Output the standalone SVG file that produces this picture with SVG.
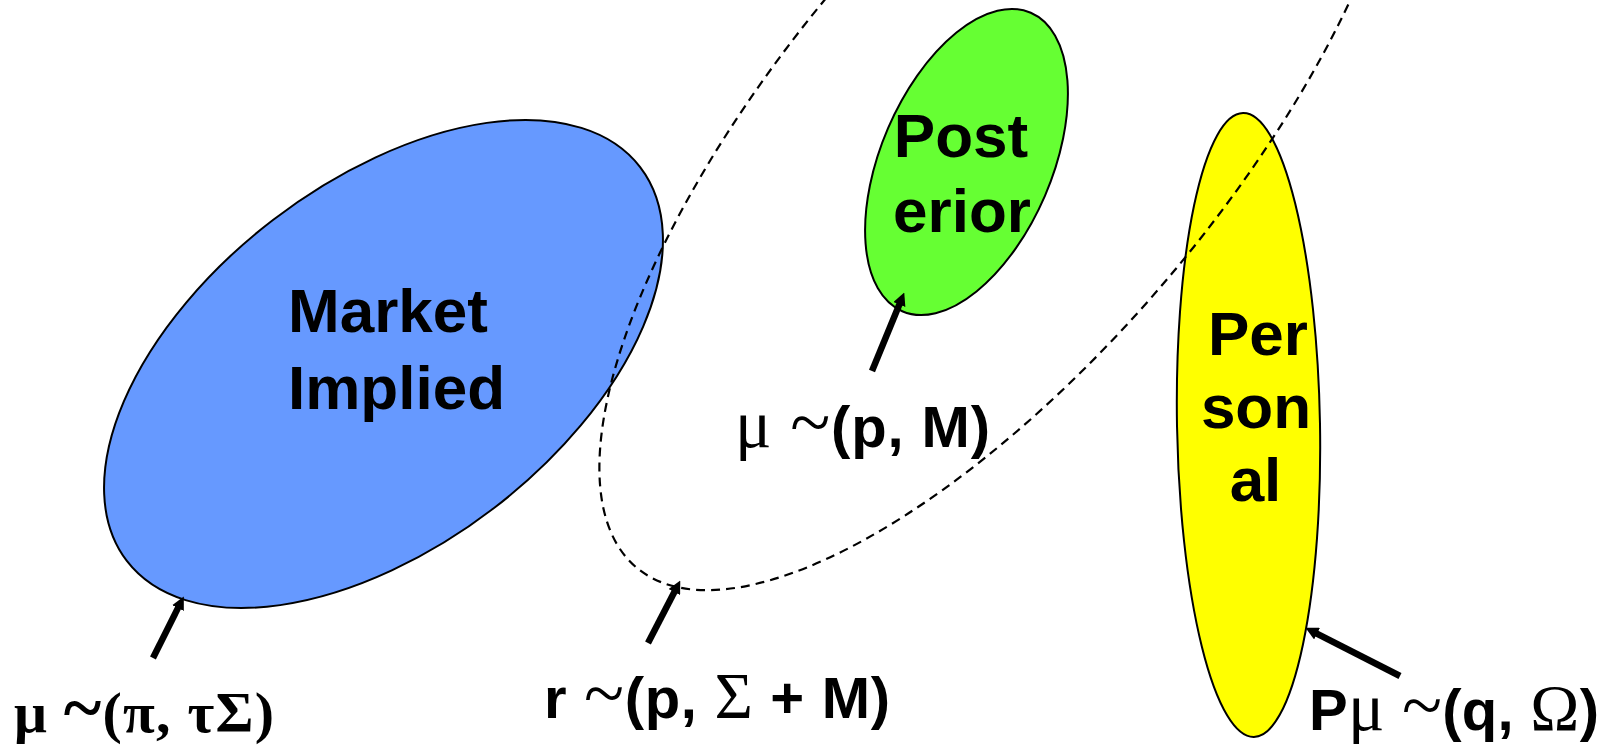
<svg xmlns="http://www.w3.org/2000/svg" width="1617" height="748" viewBox="0 0 1617 748">
<defs>
<style>
.node{stroke:#000;stroke-width:2}
.lbl{font-family:"Liberation Sans",Arial,sans-serif;font-weight:bold;fill:#000}
.sans{font-family:"Liberation Sans",Arial,sans-serif;font-weight:bold}
.ser{font-family:"Liberation Serif","Times New Roman",serif;font-weight:normal}
.serb{font-family:"Liberation Serif","Times New Roman",serif;font-weight:bold}
.conn{stroke:#000;stroke-width:6.5;fill:none;marker-end:url(#ah)}
.dash{fill:none;stroke:#000;stroke-width:2.2;stroke-dasharray:9 6}
</style>
<marker id="ah" viewBox="0 0 10 10" refX="4" refY="5" markerWidth="2" markerHeight="2" orient="auto" markerUnits="strokeWidth">
<path d="M0,0 L10,5 L0,10 z" fill="#000"/>
</marker>
</defs>
<rect width="1617" height="748" fill="#fff"/>
<g id="market">
<ellipse class="node" cx="383.5" cy="364" rx="323.5" ry="181.6" fill="#6699FF" transform="rotate(-37.5 383.5 364)"/>
<text class="lbl" font-size="62" x="288" y="332">Market</text>
<text class="lbl" font-size="62" x="288" y="408.5">Implied</text>
</g>
<g id="posterior">
<ellipse class="node" cx="966.5" cy="162" rx="85.4" ry="162.5" fill="#66FF33" transform="rotate(23.3 966.5 162)"/>
<text class="lbl" font-size="62" x="961" y="157" text-anchor="middle">Post</text>
<text class="lbl" font-size="62" x="962" y="232" text-anchor="middle">erior</text>
</g>
<g id="personal">
<ellipse class="node" cx="1248.5" cy="425" rx="71.5" ry="312" fill="#FFFF00" transform="rotate(-1 1248.5 425)"/>
<text class="lbl" font-size="62" x="1258" y="355" text-anchor="middle">Per</text>
<text class="lbl" font-size="62" x="1256" y="428" text-anchor="middle">son</text>
<text class="lbl" font-size="62" x="1255.5" y="501" text-anchor="middle">al</text>
</g>
<g id="returns">
<ellipse class="dash" cx="1003" cy="131" rx="570" ry="221" transform="rotate(-50 1003 131)"/>
</g>
<g id="labels">
<text x="14" y="732" font-size="58" textLength="260" lengthAdjust="spacing"><tspan class="serb">μ </tspan><tspan class="serb" font-size="72">~</tspan><tspan class="serb">(π, τΣ)</tspan></text>
<text x="544" y="718" font-size="58" textLength="346" lengthAdjust="spacing"><tspan class="sans">r </tspan><tspan class="ser" font-size="74">~</tspan><tspan class="sans">(p, </tspan><tspan class="ser" font-size="66">Σ</tspan><tspan class="sans"> + M)</tspan></text>
<text x="1309" y="730" font-size="58" textLength="290" lengthAdjust="spacing"><tspan class="sans">P</tspan><tspan class="ser" font-size="68">μ </tspan><tspan class="ser" font-size="74">~</tspan><tspan class="sans">(q, </tspan><tspan class="ser" font-size="66">Ω</tspan><tspan class="sans">)</tspan></text>
<text x="735" y="447" font-size="58" textLength="255" lengthAdjust="spacing"><tspan class="ser" font-size="68">μ </tspan><tspan class="ser" font-size="74">~</tspan><tspan class="sans">(p, M)</tspan></text>
</g>
<g id="connectors">
<line class="conn" x1="153" y1="658" x2="180.3" y2="603.4"/>
<line class="conn" x1="648" y1="643" x2="676.7" y2="587.4"/>
<line class="conn" x1="872" y1="371" x2="901.3" y2="299.7"/>
<line class="conn" x1="1400" y1="676" x2="1312.4" y2="631.3"/>
</g>
</svg>
